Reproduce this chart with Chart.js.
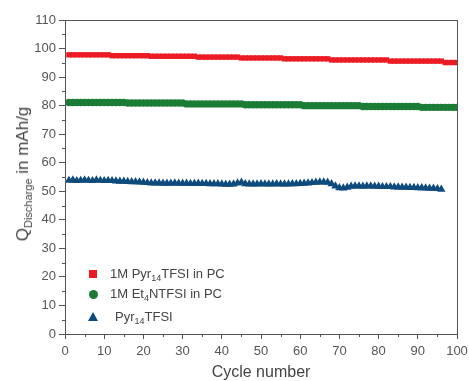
<!DOCTYPE html>
<html>
<head>
<meta charset="utf-8">
<script src="https://cdn.jsdelivr.net/npm/chart.js@4/dist/chart.umd.min.js"></script>
<style>
  html, body { margin: 0; padding: 0; background: #fff; }
  #wrap { position: relative; width: 469px; height: 381px; font-family: "Liberation Sans", Arial, sans-serif; }
  #chart { position: absolute; left: 0; top: 0; }
  .legend { position: absolute; left: 88px; font-size: 13px; color: #444; line-height: 16px; white-space: nowrap; }
  .legend sub { font-size: 9px; vertical-align: -3px; line-height: 0; }
  .mk { position: absolute; }
  #ytitle { position: absolute; left: 23px; top: 174px; transform: translate(-50%, -50%) rotate(-90deg); font-size: 17px; color: #444; white-space: nowrap; }
  #ytitle sub { font-size: 11px; vertical-align: -4px; line-height: 0; }
  #xtitle { position: absolute; left: 261px; top: 372px; transform: translate(-50%, -50%); font-size: 16px; color: #444; white-space: nowrap; }
</style>
</head>
<body>
<div id="wrap">
  <canvas id="chart" width="469" height="381"></canvas>
  <div id="ytitle">Q<sub>Discharge</sub> in mAh/g</div>
  <div id="xtitle">Cycle number</div>
  <div class="legend" style="top:266px"><span class="mk" style="left:1px;top:4px;width:8px;height:8px;background:#ec1c24"></span><span style="position:absolute;left:22px">1M Pyr<sub>14</sub>TFSI in PC</span></div>
  <div class="legend" style="top:286px"><span class="mk" style="left:1px;top:4px;width:9px;height:9px;border-radius:50%;background:#1b7c35"></span><span style="position:absolute;left:22px">1M Et<sub>4</sub>NTFSI in PC</span></div>
  <div class="legend" style="top:309px"><span class="mk" style="left:0px;top:3px;width:0;height:0;border-left:5px solid transparent;border-right:5px solid transparent;border-bottom:9px solid #0f4a7d"></span><span style="position:absolute;left:27px">Pyr<sub>14</sub>TFSI</span></div>
</div>
<script>
// discharge capacity per cycle
const redQ = [
  97.8, 97.8, 97.8, 97.8, 97.8, 97.8, 97.8, 97.8, 97.8, 97.8,
  97.8, 97.5, 97.5, 97.5, 97.5, 97.5, 97.5, 97.5, 97.5, 97.5,
  97.5, 97.3, 97.3, 97.3, 97.3, 97.3, 97.3, 97.3, 97.3, 97.3,
  97.3, 97.3, 97.3, 97.0, 97.0, 97.0, 97.0, 97.0, 97.0, 97.0,
  97.0, 97.0, 97.0, 97.0, 96.7, 96.7, 96.7, 96.7, 96.7, 96.7,
  96.7, 96.7, 96.7, 96.7, 96.7, 96.4, 96.4, 96.4, 96.4, 96.4,
  96.4, 96.4, 96.4, 96.4, 96.4, 96.4, 96.4, 96.0, 96.0, 96.0,
  96.0, 96.0, 96.0, 96.0, 96.0, 96.0, 96.0, 96.0, 96.0, 96.0,
  96.0, 96.0, 95.6, 95.6, 95.6, 95.6, 95.6, 95.6, 95.6, 95.6,
  95.6, 95.6, 95.6, 95.6, 95.6, 95.6, 95.1, 95.1, 95.1, 95.1
];
const greenQ = [
  81.1, 81.1, 81.1, 81.1, 81.1, 81.1, 81.1, 81.1, 81.1, 81.1,
  81.1, 81.1, 81.1, 81.1, 81.1, 80.9, 80.9, 80.9, 80.9, 80.9,
  80.9, 80.9, 80.9, 80.9, 80.9, 80.9, 80.9, 80.9, 80.9, 80.9,
  80.6, 80.6, 80.6, 80.6, 80.6, 80.6, 80.6, 80.6, 80.6, 80.6,
  80.6, 80.6, 80.6, 80.6, 80.6, 80.3, 80.3, 80.3, 80.3, 80.3,
  80.3, 80.3, 80.3, 80.3, 80.3, 80.3, 80.3, 80.3, 80.3, 80.3,
  80.0, 80.0, 80.0, 80.0, 80.0, 80.0, 80.0, 80.0, 80.0, 80.0,
  80.0, 80.0, 80.0, 80.0, 80.0, 79.7, 79.7, 79.7, 79.7, 79.7,
  79.7, 79.7, 79.7, 79.7, 79.7, 79.7, 79.7, 79.7, 79.7, 79.7,
  79.4, 79.4, 79.4, 79.4, 79.4, 79.4, 79.4, 79.4, 79.4, 79.4
];
const blueQ = [
  53.8, 53.9, 53.7, 53.8, 53.9, 53.8, 53.7, 53.9, 53.8, 53.7,
  53.8, 53.7, 53.6, 53.5, 53.5, 53.4, 53.3, 53.3, 53.2, 53.1,
  53.0, 52.9, 52.9, 52.9, 52.8, 52.8, 52.8, 52.9, 52.8, 52.8,
  52.8, 52.7, 52.7, 52.8, 52.7, 52.7, 52.6, 52.6, 52.6, 52.5,
  52.4, 52.4, 52.5, 52.9, 53.1, 52.6, 52.5, 52.5, 52.5, 52.6,
  52.5, 52.5, 52.5, 52.6, 52.5, 52.5, 52.5, 52.6, 52.6, 52.7,
  52.8, 52.9, 53.0, 53.1, 53.2, 53.2, 53.1, 52.6, 51.8, 51.2,
  51.1, 51.4, 51.7, 51.8, 51.8, 51.7, 51.8, 51.8, 51.7, 51.7,
  51.6, 51.6, 51.6, 51.5, 51.5, 51.4, 51.4, 51.3, 51.3, 51.2,
  51.2, 51.1, 51.0, 51.0, 50.9, 50.7
];
const xTicks = [0, 10, 20, 30, 40, 50, 60, 70, 80, 90, 100];
const yTicks = [0, 10, 20, 30, 40, 50, 60, 70, 80, 90, 100, 110];

const axisColor = "#555";
const toPoints = (arr) => arr.map((q, i) => ({ x: i + 1, y: q }));

// box around plot + minor ticks
const frame = {
  id: "frame",
  afterDraw(chart) {
    const { ctx, chartArea: a, scales } = chart;
    ctx.save();
    ctx.strokeStyle = axisColor;
    ctx.lineWidth = 1;
    ctx.strokeRect(a.left + 0.5, a.top + 0.5, a.right - a.left, a.bottom - a.top);
    ctx.beginPath();
    for (let v = 5; v < 110; v += 10) {
      const y = Math.round(scales.y.getPixelForValue(v)) + 0.5;
      ctx.moveTo(a.left - 3, y);
      ctx.lineTo(a.left, y);
    }
    for (let v = 5; v < 100; v += 10) {
      const x = Math.round(scales.x.getPixelForValue(v)) + 0.5;
      ctx.moveTo(x, a.bottom);
      ctx.lineTo(x, a.bottom + 3);
    }
    ctx.stroke();
    ctx.restore();
  },
};

new Chart(document.getElementById("chart"), {
  type: "scatter",
  data: {
    datasets: [
      { label: "1M Pyr14TFSI in PC", data: toPoints(redQ), pointStyle: "rect", pointRadius: 3.8, backgroundColor: "#ec1c24", borderWidth: 0 },
      { label: "1M Et4NTFSI in PC", data: toPoints(greenQ), pointStyle: "circle", pointRadius: 3.7, backgroundColor: "#1b7c35", borderWidth: 0 },
      { label: "Pyr14TFSI", data: toPoints(blueQ), pointStyle: "triangle", pointRadius: 4.8, backgroundColor: "#0f4a7d", borderWidth: 0 },
    ],
  },
  options: {
    responsive: false,
    animation: false,
    layout: { padding: { left: 0, right: 12, top: 20, bottom: 0 } },
    plugins: { legend: { display: false }, tooltip: { enabled: false } },
    scales: {
      x: {
        type: "linear",
        min: 0,
        max: 100,
        afterBuildTicks: (s) => { s.ticks = xTicks.map((v) => ({ value: v })); },
        afterFit: (s) => { s.height = 47; s.paddingLeft = 0; s.paddingRight = 0; },
        grid: { drawOnChartArea: false, tickLength: 5, color: axisColor },
        border: { color: axisColor },
        ticks: { color: "#555", font: { family: "Liberation Sans", size: 13 }, padding: 5, maxRotation: 0 },
      },
      y: {
        min: 0,
        max: 110,
        afterBuildTicks: (s) => { s.ticks = yTicks.map((v) => ({ value: v })); },
        afterFit: (s) => { s.width = 65; s.paddingTop = 0; s.paddingBottom = 0; },
        grid: { drawOnChartArea: false, tickLength: 6, color: axisColor },
        border: { color: axisColor },
        ticks: { color: "#555", font: { family: "Liberation Sans", size: 13 }, padding: 3 },
      },
    },
  },
  plugins: [frame],
});
</script>
</body>
</html>
